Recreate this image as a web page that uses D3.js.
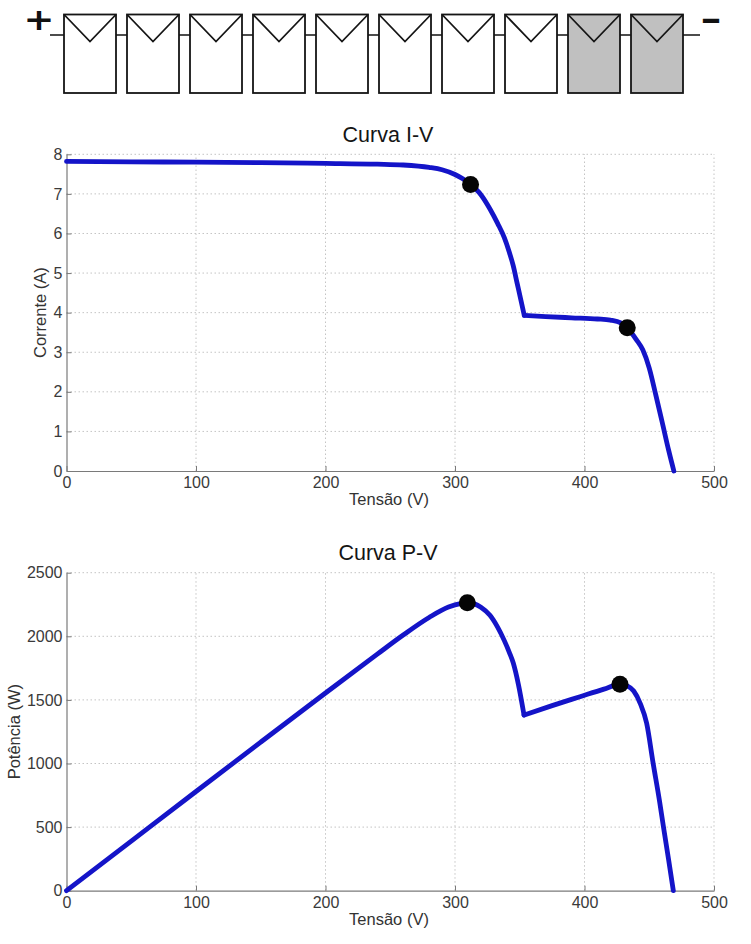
<!DOCTYPE html>
<html>
<head>
<meta charset="utf-8">
<script src="https://cdn.jsdelivr.net/npm/d3@7"></script>
<style>
  html, body { margin: 0; padding: 0; background: #fff; }
  svg { display: block; font-family: "Liberation Sans", Arial, Helvetica, sans-serif; }
</style>
</head>
<body>
<svg id="chart" width="751" height="944"></svg>
<script>
// ---------- data ----------
const moduleShaded = [0, 0, 0, 0, 0, 0, 0, 0, 1, 1];
const stringSigns = ["+", "-"];

const ivVoltage = [0, 50, 100, 150, 200, 240, 260, 280, 290, 300, 306, 312, 320, 327, 333, 338, 342, 345, 348, 351, 353.5, 370, 390, 410, 420, 428, 433, 440, 445, 450, 455, 460, 465, 469];
const ivCurrent = [7.82, 7.81, 7.80, 7.79, 7.77, 7.75, 7.73, 7.67, 7.61, 7.49, 7.38, 7.24, 6.98, 6.62, 6.25, 5.90, 5.52, 5.18, 4.74, 4.30, 3.93, 3.90, 3.87, 3.84, 3.81, 3.74, 3.62, 3.32, 3.06, 2.60, 1.93, 1.23, 0.52, 0];
const ivMppVoltage = [312, 433];
const ivMppCurrent = [7.24, 3.62];

const pvVoltage = [0, 50, 100, 150, 200, 240, 260, 280, 295, 305, 310, 315, 320, 327, 333, 338, 342, 345, 349, 353.3, 375, 396.5, 415, 427.4, 433, 438, 443, 448, 453, 458, 461, 465, 468.6];
const pvPower = [0, 390, 780, 1168, 1554, 1860, 2010, 2148, 2230, 2258, 2264, 2255, 2228, 2165, 2070, 1968, 1872, 1790, 1620, 1381, 1455, 1525, 1585, 1623, 1610, 1570, 1473, 1316, 1002, 700, 500, 240, 0];
const pvMppVoltage = [309.5, 427.4];
const pvMppPower = [2264, 1623];

const kneeVoltage = 353; // bypass-diode knee where the curve bends sharply

const xTicks = [0, 100, 200, 300, 400, 500];
const ivTicks = [0, 1, 2, 3, 4, 5, 6, 7, 8];
const pvTicks = [0, 500, 1000, 1500, 2000, 2500];

const ivTitle = "Curva I-V", pvTitle = "Curva P-V";
const xLabel = "Tensão (V)";
const ivYLabel = "Corrente (A)", pvYLabel = "Potência (W)";

// ---------- drawing ----------
const svg = d3.select("#chart");
const BLUE = "#1414c8";

// modules string
const mx = d3.scaleBand().domain(d3.range(moduleShaded.length)).range([64, 683]).paddingInner(11 / 63).paddingOuter(0);
const mTop = 14.5, mBot = 93, wireY = 35;
const stringG = svg.append("g");
stringG.append("line").attr("x1", 50).attr("x2", 700).attr("y1", wireY).attr("y2", wireY)
  .attr("stroke", "#111").attr("stroke-width", 1.6);
const mods = stringG.selectAll("g.mod").data(moduleShaded).join("g").attr("class", "mod");
mods.append("rect")
  .attr("x", (d, i) => mx(i)).attr("y", mTop)
  .attr("width", mx.bandwidth()).attr("height", mBot - mTop)
  .attr("fill", d => d ? "#c0c0c0" : "#fff")
  .attr("stroke", "#151515").attr("stroke-width", 1.8);
mods.append("path")
  .attr("d", (d, i) => {
    const x0 = mx(i), w = mx.bandwidth();
    return `M${x0},${mTop}L${x0 + w / 2},${mTop + 27}L${x0 + w},${mTop}`;
  })
  .attr("fill", "none").attr("stroke", "#151515").attr("stroke-width", 1.8);
stringG.append("text").text(stringSigns[0]).attr("x", 39).attr("y", 29.5).attr("text-anchor", "middle")
  .attr("font-family", "'DejaVu Sans', sans-serif")
  .attr("font-size", 31).attr("font-weight", "bold").attr("fill", "#111")
  .attr("textLength", 31).attr("lengthAdjust", "spacingAndGlyphs");
stringG.append("text").text(stringSigns[1]).attr("x", 711).attr("y", 29.5).attr("text-anchor", "middle")
  .attr("font-family", "'DejaVu Sans', sans-serif")
  .attr("font-size", 31).attr("font-weight", "bold").attr("fill", "#111")
  .attr("textLength", 22).attr("lengthAdjust", "spacingAndGlyphs");

function panel(opts) {
  const { yTop, yBot, yTicks, yMax, xs, ys, mppX, mppY, title, yLabel, yLabelX } = opts;
  const x = d3.scaleLinear().domain([0, 500]).range([66.5, 714]);
  const y = d3.scaleLinear().domain([0, yMax]).range([yBot, yTop]);
  const g = svg.append("g");

  // grid
  const grid = g.append("g").attr("stroke", "#c4c4c4").attr("stroke-width", 1).attr("stroke-dasharray", "1.5,2.5");
  grid.selectAll("line.gx").data(xTicks.filter(t => t > 0)).join("line")
    .attr("x1", d => x(d)).attr("x2", d => x(d)).attr("y1", yBot).attr("y2", yTop);
  grid.selectAll("line.gy").data(yTicks.filter(t => t > 0)).join("line")
    .attr("x1", x(0)).attr("x2", x(500)).attr("y1", d => y(d)).attr("y2", d => y(d));

  // axes
  const ax = g.append("g").attr("transform", `translate(0,${yBot})`)
    .call(d3.axisBottom(x).tickValues(xTicks).tickFormat(d3.format("d")).tickSizeInner(-5).tickSizeOuter(0).tickPadding(6));
  const ay = g.append("g").attr("transform", `translate(${x(0)},0)`)
    .call(d3.axisLeft(y).tickValues(yTicks).tickFormat(d3.format("d")).tickSizeInner(-5).tickSizeOuter(0).tickPadding(4));
  [ax, ay].forEach(a => {
    a.select(".domain").attr("stroke", "#7a7a7a").attr("stroke-width", 1.2);
    a.selectAll(".tick line").attr("stroke", "#7a7a7a");
    a.selectAll(".tick text").attr("font-size", 16).attr("fill", "#3a3a3a")
      .attr("font-family", "'Liberation Sans', Arial, sans-serif");
  });

  // curve, smoothed on each side of the sharp knee
  const pts = xs.map((v, i) => [v, ys[i]]);
  const k = xs.findIndex(v => v >= kneeVoltage);
  const segs = [pts.slice(0, k + 1), pts.slice(k)];
  const line = d3.line().x(d => x(d[0])).y(d => y(d[1])).curve(d3.curveMonotoneX);
  g.selectAll("path.curve").data(segs).join("path").attr("class", "curve")
    .attr("d", line)
    .attr("fill", "none").attr("stroke", BLUE).attr("stroke-width", 4.8)
    .attr("stroke-linejoin", "round").attr("stroke-linecap", "round");

  // MPP dots
  g.selectAll("circle.mpp").data(mppX.map((v, i) => [v, mppY[i]])).join("circle")
    .attr("class", "mpp")
    .attr("cx", d => x(d[0])).attr("cy", d => y(d[1])).attr("r", 8.5).attr("fill", "#050505");

  // texts
  g.append("text").text(title).attr("x", 388).attr("y", yTop - 12.5).attr("text-anchor", "middle")
    .attr("font-size", 21.5).attr("fill", "#151515");
  g.append("text").text(xLabel).attr("x", 389).attr("y", yBot + 34).attr("text-anchor", "middle")
    .attr("font-size", 16.5).attr("fill", "#333");
  g.append("text").text(yLabel)
    .attr("transform", `translate(${yLabelX},${(yTop + yBot) / 2}) rotate(-90)`)
    .attr("text-anchor", "middle").attr("font-size", 16.5).attr("fill", "#333");
}

panel({ yTop: 154.3, yBot: 471, yTicks: ivTicks, yMax: 8, xs: ivVoltage, ys: ivCurrent,
  mppX: ivMppVoltage, mppY: ivMppCurrent, title: ivTitle, yLabel: ivYLabel, yLabelX: 46 });
panel({ yTop: 572.7, yBot: 890.7, yTicks: pvTicks, yMax: 2500, xs: pvVoltage, ys: pvPower,
  mppX: pvMppVoltage, mppY: pvMppPower, title: pvTitle, yLabel: pvYLabel, yLabelX: 20 });
</script>
</body>
</html>
